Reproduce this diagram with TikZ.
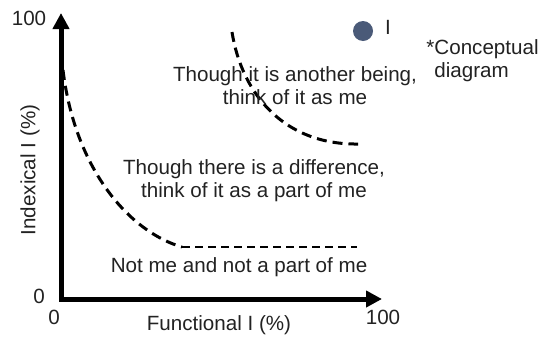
\documentclass[tikz,border=0pt]{standalone}
\usepackage{fontspec}
\setmainfont{Liberation Sans}
\usetikzlibrary{arrows.meta}
\definecolor{dotblue}{HTML}{4A5A78}
\definecolor{inkgray}{HTML}{222222}

\begin{document}
\begin{tikzpicture}[x=0.5pt, y=-0.5pt,
    every node/.style={text=inkgray, font=\fontsize{10.3}{11.6}\selectfont},
    axis/.style={line width=2.5pt, line join=miter,
        {Triangle[length=8pt,width=8pt]}-{Triangle[length=8pt,width=8pt]}},
    bound/.style={line width=1.5pt, dash pattern=on 5pt off 3pt}]
    \useasboundingbox (0,0) rectangle (539,338);

    % axes
    \coordinate (ymax) at (61,13);
    \coordinate (xmax) at (382,299);
    \draw[axis] (ymax) |- (xmax);

    \node (ytop) at (29,18) {100};
    \node (yzero) at (39,296) {0};
    \node (xzero) at (54,317) {0};
    \node (xtop) at (383,317) {100};
    \node (xlab) at (219,325) {Functional I (\%)};
    \node[rotate=90] (ylab) at (30,170) {Indexical I (\%)};

    % boundaries
    \draw[bound] (63,70) .. controls (75,170) and (130,232) .. (182,247);
    \draw[bound, line width=1pt, dash pattern=on 4pt off 2.5pt] (182,247) -- (357,247);
    \draw[bound] (232,32) .. controls (242,95) and (285,145) .. (358,144);

    % regions
    \node[align=center] (other) at (295,86) {Though it is another being,\\think of it as me};
    \node[align=center] (part) at (254,181) {Though there is a difference,\\think of it as a part of me};
    \node (notme) at (239,267) {Not me and not a part of me};

    % legend
    \node[circle, fill=dotblue, minimum size=10pt, inner sep=0pt] (dot) at (363,31) {};
    \node (dotlab) at (388,27) {I};
    \node[anchor=west, align=left, inner sep=0pt] (note) at (426,61) {*Conceptual\\\hphantom{*}diagram};
\end{tikzpicture}
\end{document}
